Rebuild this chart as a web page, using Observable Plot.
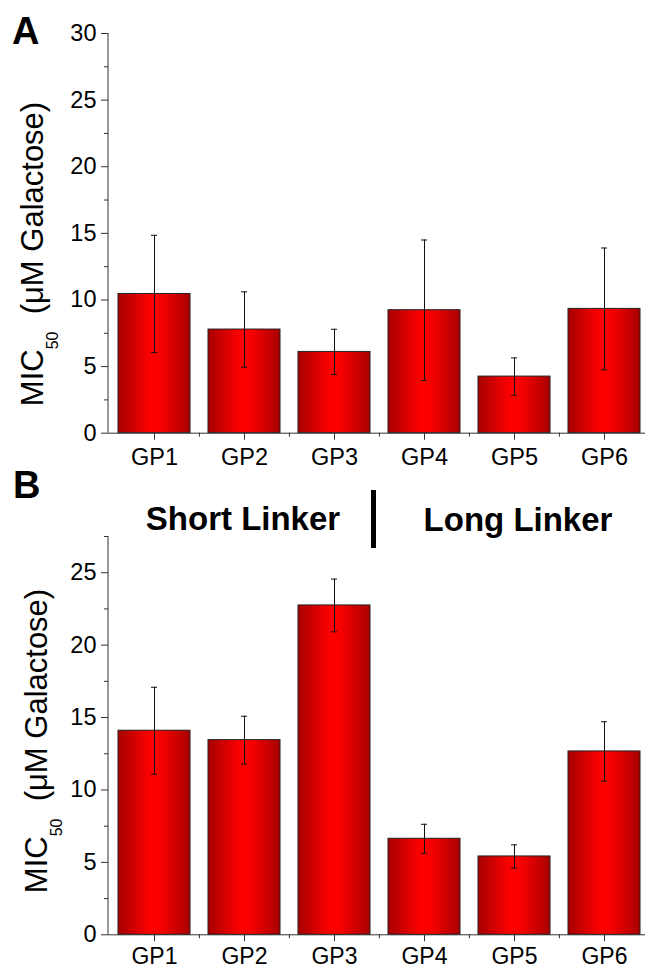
<!DOCTYPE html>
<html><head><meta charset="utf-8">
<script src="https://cdn.jsdelivr.net/npm/d3@7"></script>
<script src="https://cdn.jsdelivr.net/npm/@observablehq/plot@0.6"></script>
<style>
body{margin:0;background:#fff;}
#root{width:645px;height:969px;overflow:hidden;background:#fff;}
#root svg{display:block;}
</style></head><body><div id="root"></div>
<script>
// ---- data ----
const categories = ["GP1", "GP2", "GP3", "GP4", "GP5", "GP6"];
const meanA = [10.45, 7.78, 6.1, 9.23, 4.25, 9.33];
const errA  = [4.4, 2.83, 1.7, 5.27, 1.4, 4.57];
const meanB = [14.09, 13.44, 22.74, 6.63, 5.41, 12.66];
const errB  = [3.0, 1.65, 1.82, 1.0, 0.8, 2.05];
const ticksA = [0, 5, 10, 15, 20, 25, 30];
const minorA = [2.5, 7.5, 12.5, 17.5, 22.5, 27.5];
const ticksB = [0, 5, 10, 15, 20, 25];
const minorB = [2.5, 7.5, 12.5, 17.5, 22.5, 27.5];
const panelLabels = ["A", "B"];
const groupLabels = ["Short Linker", "Long Linker"];
const yLabelMain = "MIC", yLabelSub = "50", yLabelRest = "(\u03bcM Galactose)";

const FONT = "'Liberation Sans', Arial, Helvetica, sans-serif";
const AXIS = "#333";

function panel({id, mean, err, height, marginTop, marginBottom, yDomain, ticks, minor, xFont, xPad}) {
  const data = categories.map((c, i) => ({c, v: mean[i], lo: mean[i] - err[i], hi: mean[i] + err[i]}));
  const xr = [108, 649.2];
  const step = (xr[1] - xr[0]) / categories.length;
  const svg = Plot.plot({
    width: 645, height, marginLeft: 108, marginRight: 0, marginTop, marginBottom,
    style: {fontFamily: FONT, background: "#fff", color: "#000", overflow: "visible"},
    x: {domain: categories, range: xr, paddingInner: 0.2, paddingOuter: 0.1, label: null},
    y: {domain: yDomain, label: null},
    marks: [
      Plot.barY(data, {x: "c", y: "v", fill: `url(#${id})`, stroke: "#222", strokeWidth: 1}),
      Plot.ruleX(data, {x: "c", y1: "lo", y2: "hi", stroke: "#111", strokeWidth: 1}),
      Plot.tickY(data, {x: "c", y: "lo", insetLeft: 33, insetRight: 33, stroke: "#111", strokeWidth: 1}),
      Plot.tickY(data, {x: "c", y: "hi", insetLeft: 33, insetRight: 33, stroke: "#111", strokeWidth: 1}),
      Plot.axisY({ticks, tickSize: 7, tickPadding: 5, fontSize: 23.5, label: null, stroke: AXIS, fill: "#000"}),
      Plot.axisY({ticks: minor, tickSize: 4, tickFormat: () => "", label: null, stroke: AXIS}),
      Plot.axisX({tickSize: 7, tickPadding: xPad, fontSize: xFont, label: null, stroke: AXIS, fill: "#000"}),
      Plot.axisX({ticks: categories.slice(1), tickSize: 4, tickFormat: () => "", label: null, stroke: AXIS, dx: -step / 2}),
      Plot.ruleY([yDomain[0]], {stroke: AXIS, strokeWidth: 1})
    ]
  });
  const s = d3.select(svg);
  s.insert("defs", ":first-child").html(
    `<linearGradient id="${id}" x1="0" x2="1" y1="0" y2="0">
       <stop offset="0" stop-color="#a60000"/>
       <stop offset="0.45" stop-color="#ff0000"/>
       <stop offset="0.6" stop-color="#f80000"/>
       <stop offset="1" stop-color="#a80000"/>
     </linearGradient>`);
  const y = svg.scale("y");
  s.append("line").attr("x1", 108).attr("x2", 108)
    .attr("y1", y.apply(yDomain[1])).attr("y2", y.apply(yDomain[0]))
    .attr("stroke", AXIS).attr("stroke-width", 1);
  return svg;
}

function yTitle(svg, x, yc) {
  const t = d3.select(svg).append("text")
    .attr("transform", `translate(${x},${yc}) rotate(-90)`)
    .attr("text-anchor", "middle").attr("font-size", 31).attr("fill", "#000");
  t.append("tspan").text(yLabelMain);
  t.append("tspan").attr("font-size", 16).attr("dy", 15).text(yLabelSub);
  t.append("tspan").attr("dy", -15).text("\u00a0 " + yLabelRest);
}

const root = document.getElementById("root");

const svgA = panel({id: "gradA", mean: meanA, err: errA, height: 470, marginTop: 33, marginBottom: 37.3,
  yDomain: [0, 30], ticks: ticksA, minor: minorA, xFont: 23.5, xPad: 8});
yTitle(svgA, 43, 254);
d3.select(svgA).append("text").attr("x", 12).attr("y", 44).attr("font-size", 38)
  .attr("text-anchor", "start").attr("font-weight", "bold").attr("fill", "#000").text(panelLabels[0]);
root.appendChild(svgA);

const svgB = panel({id: "gradB", mean: meanB, err: errB, height: 499, marginTop: 66, marginBottom: 34.7,
  yDomain: [0, 27.5], ticks: ticksB, minor: minorB, xFont: 23, xPad: 6});
yTitle(svgB, 47, 271);
const sb = d3.select(svgB);
sb.append("text").attr("x", 13).attr("y", 28).attr("font-size", 38).attr("text-anchor", "start")
  .attr("font-weight", "bold").attr("fill", "#000").text(panelLabels[1]);
sb.append("text").attr("x", 243).attr("y", 60).attr("text-anchor", "middle").attr("font-size", 33)
  .attr("font-weight", "bold").attr("fill", "#000").text(groupLabels[0]);
sb.append("text").attr("x", 518).attr("y", 61).attr("text-anchor", "middle").attr("font-size", 33)
  .attr("font-weight", "bold").attr("fill", "#000").text(groupLabels[1]);
sb.append("rect").attr("x", 371).attr("y", 20).attr("width", 5).attr("height", 58).attr("fill", "#000");
root.appendChild(svgB);
</script></body></html>
